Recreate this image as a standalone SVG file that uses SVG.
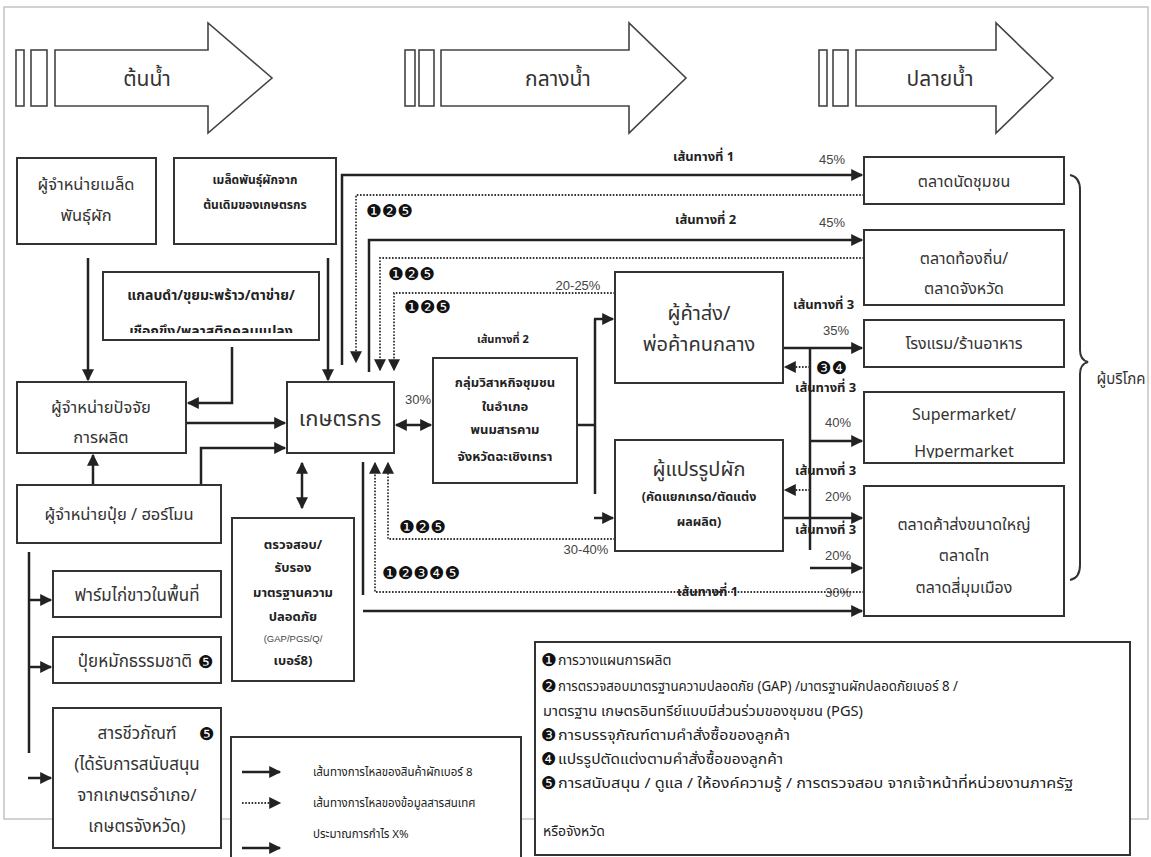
<svg xmlns="http://www.w3.org/2000/svg" width="1151" height="857" viewBox="0 0 1151 857">
<style>
.bg{fill:#fff}
.frame{fill:none;stroke:#c4c4c4;stroke-width:1.5}
.box{fill:#fff;stroke:#333;stroke-width:2}
.big{fill:#fff;stroke:#444;stroke-width:1.6}
.t{font-family:"Noto Sans Thai","Noto Sans Thai UI","Loma","Garuda","Tlwg Typo","DejaVu Sans",sans-serif;fill:#333;text-anchor:middle}
.l{font-family:"Noto Sans Thai","Noto Sans Thai UI","Loma","Garuda","DejaVu Sans",sans-serif;fill:#222;text-anchor:start}
.b{font-weight:bold;fill:#222}
.pc{font-family:"Liberation Sans",Arial,sans-serif;fill:#444;font-size:13px;text-anchor:middle}
.num{font-family:"DejaVu Sans",sans-serif;fill:#111;font-size:17.5px}
.ln{fill:none;stroke:#222;stroke-width:2.5}
.ar{marker-end:url(#ah)}
.dt{fill:none;stroke:#333;stroke-width:1.8;stroke-dasharray:1.6 1.6}
.dd{marker-start:url(#ah);marker-end:url(#ah)}
</style>
<defs>
<marker id="ah" viewBox="0 0 10 10" refX="9" refY="5" markerUnits="userSpaceOnUse" markerWidth="13" markerHeight="12" orient="auto-start-reverse"><path d="M0,0 L10,5 L0,10 z" fill="#222"/></marker>
<clipPath id="cm"><rect x="103" y="272" width="216" height="61"/></clipPath>
<clipPath id="cs"><rect x="864" y="392" width="200" height="66"/></clipPath>
</defs>
<rect class="bg" x="0" y="0" width="1151" height="857"/>
<rect class="frame" x="4" y="7" width="1144" height="812"/>

<g id="stage-upstream">
<rect class="big" x="16" y="50" width="8" height="56"/>
<rect class="big" x="31" y="50" width="16" height="56"/>
<polygon class="big" points="55,50 208,50 208,23 272,78 208,133 208,106 55,106"/>
<text class="t" x="147" y="86" font-size="21">ต้นน้ำ</text>
</g>
<g id="stage-midstream">
<rect class="big" x="405" y="50" width="10" height="56"/>
<rect class="big" x="419" y="50" width="15" height="56"/>
<polygon class="big" points="441,50 629,50 629,23 686,78 629,133 629,106 441,106"/>
<text class="t" x="558" y="86" font-size="21">กลางน้ำ</text>
</g>
<g id="stage-downstream">
<rect class="big" x="819" y="50" width="8" height="56"/>
<rect class="big" x="833" y="50" width="15" height="56"/>
<polygon class="big" points="856,50 996,50 996,23 1053,78 996,133 996,106 856,106"/>
<text class="t" x="940" y="86" font-size="21">ปลายน้ำ</text>
</g>

<g id="connectors">
<path class="ln ar" d="M88,258 V380"/>
<path class="ln ar" d="M232,347 V403 H188"/>
<path class="ln ar" d="M328,258 V380"/>
<path class="ln ar" d="M186,423 H285"/>
<path class="ln ar" d="M93,485 V455"/>
<path class="ln ar" d="M201,485 V448 H285"/>
<path class="ln" d="M29,552 V753"/>
<path class="ln ar" d="M29,600 H51"/>
<path class="ln ar" d="M29,667 H51"/>
<path class="ln ar" d="M28,778 H51"/>
<path class="ln dd" d="M302,463 V508"/>
<path class="ln dd" d="M396,425 H431"/>
<path class="ln ar" d="M342,365 V175 H862"/>
<path class="dt ar" d="M864,195 H356 V362"/>
<path class="ln ar" d="M369,372 V240 H862"/>
<path class="dt ar" d="M864,258 H380 V370"/>
<path class="dt ar" d="M615,293 H394 V370"/>
<path class="ln" d="M577,425 H595"/>
<path class="ln" d="M595,319 V494"/>
<path class="ln ar" d="M594,319 H613"/>
<path class="ln ar" d="M594,518 H613"/>
<path class="ln ar" d="M783,348 H862"/>
<path class="ln" d="M810,348 V550"/>
<path class="ln ar" d="M810,441 H862"/>
<path class="dt ar" d="M810,367 H785"/>
<path class="dt ar" d="M810,490 H785"/>
<path class="ln ar" d="M783,518 H862"/>
<path class="ln ar" d="M810,568 H862"/>
<path class="dt ar" d="M615,539 H388 V463"/>
<path class="dt ar" d="M864,592 H375 V463"/>
<path class="ln" d="M363,462 V595"/>
<path class="ln ar" d="M363,611 H862"/>
<text class="l b" x="673" y="161" font-size="13">เส้นทางที่ 1</text>
<text class="pc" x="832" y="164">45%</text>
<text class="num" x="366" y="217">❶❷❺</text>
<text class="l b" x="675" y="224" font-size="13">เส้นทางที่ 2</text>
<text class="pc" x="832" y="227">45%</text>
<text class="num" x="388" y="280">❶❷❺</text>
<text class="num" x="404" y="313">❶❷❺</text>
<text class="pc" x="578" y="290">20-25%</text>
<text class="l b" x="477" y="343" font-size="11">เส้นทางที่ 2</text>
<text class="pc" x="418" y="404">30%</text>
<text class="l b" x="793" y="309" font-size="13">เส้นทางที่ 3</text>
<text class="pc" x="836" y="335">35%</text>
<text class="num" x="816" y="374">❸❹</text>
<text class="l b" x="795" y="392" font-size="13">เส้นทางที่ 3</text>
<text class="pc" x="838" y="427">40%</text>
<text class="l b" x="795" y="475" font-size="13">เส้นทางที่ 3</text>
<text class="pc" x="838" y="501">20%</text>
<text class="l b" x="795" y="534" font-size="13">เส้นทางที่ 3</text>
<text class="pc" x="838" y="560">20%</text>
<text class="num" x="399" y="533">❶❷❺</text>
<text class="pc" x="586" y="554">30-40%</text>
<text class="num" x="382" y="579">❶❷❸❹❺</text>
<text class="l b" x="677" y="596" font-size="13">เส้นทางที่ 1</text>
<text class="pc" x="838" y="597">30%</text>
</g>

<g id="seed-dealer"><rect class="box" x="17" y="158" width="139" height="86"/>
<text class="t" x="86" y="190" font-size="16.5">ผู้จำหน่ายเมล็ด</text><text class="t" x="86" y="221" font-size="16.5">พันธุ์ผัก</text></g>
<g id="farmer-seed"><rect class="box" x="174" y="158" width="162" height="86"/>
<text class="t b" x="255" y="184" font-size="12">เมล็ดพันธุ์ผักจาก</text><text class="t b" x="255" y="209" font-size="12">ต้นเดิมของเกษตรกร</text></g>
<g id="materials"><rect class="box" x="103" y="272" width="216" height="68"/>
<g clip-path="url(#cm)"><text class="t b" x="211" y="300" font-size="14">แกลบดำ/ขุยมะพร้าว/ตาข่าย/</text><text class="t b" x="211" y="336" font-size="14">เชือกขึง/พลาสติกคลุมแปลง</text></g></g>
<g id="input-dealer"><rect class="box" x="17" y="382" width="169" height="71"/>
<text class="t" x="101" y="413" font-size="16.5">ผู้จำหน่ายปัจจัย</text><text class="t" x="101" y="443" font-size="16.5">การผลิต</text></g>
<g id="farmer"><rect class="box" x="287" y="382" width="107" height="71"/>
<text class="t" x="340" y="426" font-size="22">เกษตรกร</text></g>
<g id="fert-dealer"><rect class="box" x="17" y="485" width="204" height="58"/>
<text class="t" x="119" y="520" font-size="16.5">ผู้จำหน่ายปุ๋ย / ฮอร์โมน</text></g>
<g id="chicken-farm"><rect class="box" x="53" y="571" width="168" height="46"/>
<text class="t" x="137" y="601" font-size="17">ฟาร์มไก่ขาวในพื้นที่</text></g>
<g id="compost"><rect class="box" x="53" y="637" width="168" height="46"/>
<text class="t" x="135" y="667" font-size="17">ปุ๋ยหมักธรรมชาติ</text><text class="num" x="198" y="668" font-size="14">❺</text></g>
<g id="bio"><rect class="box" x="53" y="708" width="168" height="140"/>
<text class="t" x="137" y="739" font-size="17">สารชีวภัณฑ์</text><text class="num" x="199" y="740" font-size="14">❺</text>
<text class="t" x="137" y="770" font-size="17">(ได้รับการสนับสนุน</text>
<text class="t" x="137" y="801" font-size="17">จากเกษตรอำเภอ/</text>
<text class="t" x="137" y="832" font-size="17">เกษตรจังหวัด)</text></g>
<g id="certify"><rect class="box" x="232" y="518" width="122" height="163"/>
<text class="t b" x="293" y="549" font-size="13">ตรวจสอบ/</text>
<text class="t b" x="293" y="572" font-size="13">รับรอง</text>
<text class="t b" x="293" y="597" font-size="13">มาตรฐานความ</text>
<text class="t b" x="293" y="621" font-size="13">ปลอดภัย</text>
<text class="pc" x="293" y="642" style="font-size:9.5px">(GAP/PGS/Q/</text>
<text class="t b" x="293" y="665" font-size="13">เบอร์8)</text></g>
<g id="community-group"><rect class="box" x="433" y="358" width="144" height="125"/>
<text class="t b" x="505" y="387" font-size="13">กลุ่มวิสาหกิจชุมชน</text>
<text class="t b" x="505" y="411" font-size="13">ในอำเภอ</text>
<text class="t b" x="505" y="434" font-size="13">พนมสารคาม</text>
<text class="t b" x="505" y="461" font-size="13">จังหวัดฉะเชิงเทรา</text></g>
<g id="wholesaler"><rect class="box" x="615" y="272" width="168" height="111"/>
<text class="t" x="699" y="320" font-size="20">ผู้ค้าส่ง/</text><text class="t" x="699" y="351" font-size="20">พ่อค้าคนกลาง</text></g>
<g id="processor"><rect class="box" x="615" y="440" width="168" height="111"/>
<text class="t" x="699" y="476" font-size="20">ผู้แปรรูปผัก</text>
<text class="t b" x="699" y="501" font-size="12.5">(คัดแยกเกรด/ตัดแต่ง</text>
<text class="t b" x="699" y="526" font-size="12.5">ผลผลิต)</text></g>
<g id="community-market"><rect class="box" x="864" y="157" width="200" height="47"/>
<text class="t" x="964" y="187" font-size="16">ตลาดนัดชุมชน</text></g>
<g id="local-market"><rect class="box" x="864" y="230" width="200" height="75"/>
<text class="t" x="964" y="264" font-size="16">ตลาดท้องถิ่น/</text><text class="t" x="964" y="294" font-size="16">ตลาดจังหวัด</text></g>
<g id="hotel"><rect class="box" x="864" y="320" width="200" height="47"/>
<text class="t" x="964" y="349" font-size="16">โรงแรม/ร้านอาหาร</text></g>
<g id="supermarket"><rect class="box" x="864" y="392" width="200" height="71"/>
<g clip-path="url(#cs)"><text class="t" x="964" y="420" font-size="16">Supermarket/</text><text class="t" x="964" y="457" font-size="16">Hypermarket</text></g></g>
<g id="wholesale-market"><rect class="box" x="864" y="486" width="200" height="130"/>
<text class="t" x="964" y="530" font-size="16">ตลาดค้าส่งขนาดใหญ่</text>
<text class="t" x="964" y="561" font-size="16">ตลาดไท</text>
<text class="t" x="964" y="593" font-size="16">ตลาดสี่มุมเมือง</text></g>
<g id="consumer">
<path d="M1070,175 Q1080,177 1080,190 L1080,350 Q1080,360 1088,362 Q1080,364 1080,374 L1080,565 Q1080,578 1070,580" fill="none" stroke="#333" stroke-width="2"/>
<text class="t" x="1121" y="384" font-size="15">ผู้บริโภค</text></g>

<g id="legend"><rect class="box" x="231" y="737" width="290" height="140"/>
<path class="ln ar" d="M242,772 H280"/>
<path class="dt ar" d="M242,803 H280"/>
<path class="ln ar" d="M242,848 H280"/>
<text class="l" x="313" y="776" font-size="11.5">เส้นทางการไหลของสินค้าผักเบอร์ 8</text>
<text class="l" x="313" y="807" font-size="11.5">เส้นทางการไหลของข้อมูลสารสนเทศ</text>
<text class="l" x="313" y="838" font-size="11.5">ประมาณการกำไร X%</text></g>

<g id="activities"><rect class="box" x="535" y="642" width="595" height="213"/>
<text class="num" x="541" y="666" font-size="16">❶</text><text class="l" x="558" y="665" font-size="14">การวางแผนการผลิต</text>
<text class="num" x="541" y="692" font-size="16">❷</text><text class="l" x="558" y="691" font-size="14" textLength="400" lengthAdjust="spacingAndGlyphs">การตรวจสอบมาตรฐานความปลอดภัย (GAP) /มาตรฐานผักปลอดภัยเบอร์ 8 /</text>
<text class="l" x="543" y="716" font-size="14" textLength="320" lengthAdjust="spacingAndGlyphs">มาตรฐาน เกษตรอินทรีย์แบบมีส่วนร่วมของชุมชน (PGS)</text>
<text class="num" x="541" y="741" font-size="16">❸</text><text class="l" x="558" y="740" font-size="14" textLength="232" lengthAdjust="spacingAndGlyphs">การบรรจุภัณฑ์ตามคำสั่งซื้อของลูกค้า</text>
<text class="num" x="541" y="765" font-size="16">❹</text><text class="l" x="558" y="764" font-size="14" textLength="225" lengthAdjust="spacingAndGlyphs">แปรรูปตัดแต่งตามคำสั่งซื้อของลูกค้า</text>
<text class="num" x="541" y="789" font-size="16">❺</text><text class="l" x="558" y="788" font-size="14" textLength="515" lengthAdjust="spacingAndGlyphs">การสนับสนุน / ดูแล / ให้องค์ความรู้ / การตรวจสอบ จากเจ้าหน้าที่หน่วยงานภาครัฐ</text>
<text class="l" x="543" y="836" font-size="14">หรือจังหวัด</text></g>
</svg>
